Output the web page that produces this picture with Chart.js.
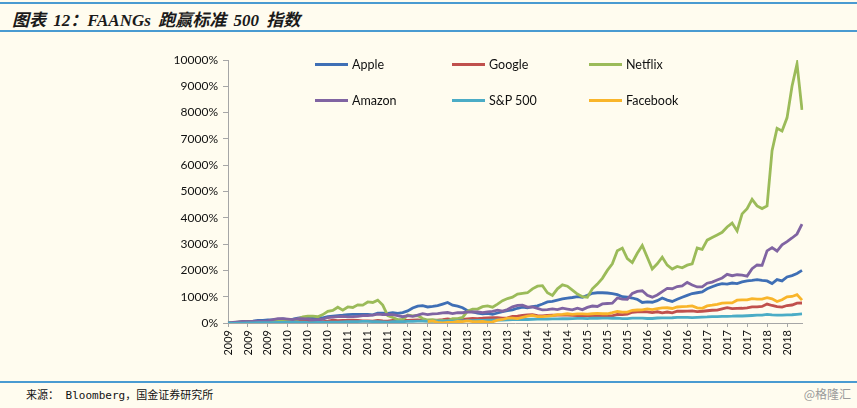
<!DOCTYPE html>
<html>
<head>
<meta charset="utf-8">
<script src="https://cdn.jsdelivr.net/npm/chart.js@4.4.1/dist/chart.umd.min.js"></script>
<style>
    body { margin: 0; background: #FFFCEF; }
    #page { position: relative; width: 857px; height: 408px; overflow: hidden; background: #FFFCEF; }
    .rule { position: absolute; left: 0; width: 857px; height: 2px; background: #4A9BD1; }
    #title { position: absolute; left: 12px; top: 6px; font: italic bold 17px "Liberation Serif", "Noto Sans CJK SC", serif; color: #1a1a1a; white-space: nowrap; word-spacing: 3px; }
    #source { position: absolute; left: 26px; top: 386px; font: 11px "DejaVu Sans Mono", "Noto Sans CJK SC", monospace; color: #111; white-space: nowrap; }
    #mark { position: absolute; right: 6px; top: 385px; font: 12px "Noto Sans CJK SC", sans-serif; color: #9a9a9a; }
    #chart-box { position: absolute; left: 0; top: 36px; width: 857px; height: 340px; }
    .legend-item { position: absolute; font: 12.5px Lato, sans-serif; color: #111; white-space: nowrap; }
    .legend-item span.swatch { display: inline-block; width: 33px; height: 3px; vertical-align: middle; margin-right: 4px; position: relative; top: -1px; }
</style>
</head>
<body>
<div id="page">
    <div class="rule" style="top:2px"></div>
    <div id="title">图表 12：FAANGs 跑赢标准 500 指数</div>
    <div class="rule" style="top:30px"></div>
    <div id="chart-box"><canvas id="faangs"></canvas></div>
    <div id="legend"></div>
    <div class="rule" style="top:381px"></div>
    <div id="source">来源： Bloomberg，国金证券研究所</div>
    <div id="mark">@格隆汇</div>
</div>
<script>
// monthly points, Jan 2009 .. Aug 2018, cumulative return in %
const years = ["2009", "2010", "2011", "2012", "2013", "2014", "2015", "2016", "2017", "2018"];
const monthCount = 116;

const seriesNames = ["Apple", "Google", "Netflix", "Amazon", "S&P 500", "Facebook"];
const seriesColors = ["#3F6FB5", "#C0504D", "#9BBB59", "#8064A2", "#4BACC6", "#F9B52A"];

const apple = [
    0, 5, 25, 50, 60, 70, 95, 100, 120, 125, 140, 155,
    130, 145, 185, 215, 210, 205, 210, 195, 245, 265, 280, 295,
    315, 330, 325, 330, 325, 310, 375, 370, 365, 395, 365, 395,
    460, 570, 640, 660, 610, 630, 660, 720, 780, 680, 640, 580,
    470, 420, 380, 350, 370, 330, 380, 430, 470, 500, 560, 600,
    580, 620, 650, 720, 800, 820, 870, 920, 950, 970, 1000, 980,
    1050, 1130, 1150, 1150, 1140, 1120, 1080, 1000, 980, 950, 900, 780,
    800, 790, 850, 950, 870, 820, 900, 980, 1050, 1120, 1150, 1180,
    1300, 1380, 1450, 1500, 1480, 1520, 1500, 1560, 1600, 1620, 1650, 1620,
    1600, 1500, 1650, 1600, 1750, 1800, 1880, 2000
];
const google = [
    0, 5, 15, 30, 38, 40, 48, 52, 65, 80, 95, 108,
    75, 75, 90, 75, 62, 48, 62, 50, 75, 105, 85, 98,
    100, 105, 95, 82, 78, 70, 102, 80, 72, 98, 100, 115,
    95, 105, 115, 102, 95, 95, 112, 130, 155, 128, 135, 140,
    155, 172, 170, 180, 196, 200, 202, 188, 198, 252, 262, 285,
    305, 318, 282, 268, 290, 295, 298, 298, 296, 290, 278, 262,
    268, 285, 276, 276, 268, 270, 330, 322, 340, 408, 428, 438,
    425, 392, 426, 388, 418, 385, 446, 446, 455, 458, 435, 447,
    466, 484, 486, 540, 584, 544, 555, 560, 575, 616, 616, 630,
    720, 666, 620, 603, 664, 684, 755, 760
];
const netflix = [
    0, 10, 30, 50, 30, 40, 45, 45, 55, 75, 95, 85,
    105, 120, 150, 230, 260, 265, 240, 320, 440, 480, 600, 490,
    610, 590, 690, 680, 800, 780, 870, 680, 280, 210, 130, 130,
    300, 270, 285, 170, 115, 130, 90, 100, 80, 170, 170, 210,
    450, 530, 530, 620, 650, 600, 720, 850, 930, 980, 1100, 1130,
    1150, 1300, 1400, 1420, 1150, 1050, 1300, 1450, 1400, 1250, 1100, 1000,
    980, 1300, 1480, 1700, 2000, 2250, 2750, 2850, 2450, 2300, 2650, 2950,
    2500, 2050, 2250, 2500, 2200, 2050, 2150, 2100, 2200, 2250, 2850, 2800,
    3150, 3250, 3350, 3450, 3650, 3800, 3500, 4150, 4350, 4700, 4450, 4350,
    4450, 6550, 7400, 7300, 7800, 9000, 9850, 8100
];
const amazon = [
    0, 25, 43, 57, 53, 65, 69, 59, 83, 131, 165, 163,
    145, 131, 165, 169, 145, 114, 130, 143, 208, 224, 243, 253,
    231, 239, 253, 284, 284, 300, 335, 322, 324, 318, 276, 239,
    280, 251, 296, 353, 316, 347, 357, 386, 398, 355, 394, 390,
    420, 418, 422, 396, 427, 443, 490, 449, 512, 614, 671, 681,
    602, 610, 559, 496, 512, 535, 512, 565, 531, 498, 563, 508,
    594, 645, 629, 725, 741, 751, 951, 904, 902, 1127, 1202, 1224,
    1051, 982, 1065, 1192, 1316, 1302, 1386, 1408, 1541, 1447, 1371, 1371,
    1514, 1557, 1637, 1712, 1849, 1798, 1835, 1822, 1784, 2067, 2206, 2192,
    2743, 2865, 2737, 2970, 3094, 3233, 3384, 3760
];
const sp500 = [
    0, -15, -10, -3, 2, 2, 9, 13, 17, 15, 22, 25,
    20, 24, 32, 35, 24, 18, 26, 21, 32, 37, 37, 46,
    50, 55, 55, 60, 58, 55, 52, 44, 34, 49, 49, 50,
    58, 65, 71, 70, 60, 67, 70, 73, 78, 75, 76, 78,
    88, 91, 98, 102, 107, 105, 115, 109, 116, 126, 133, 139,
    133, 143, 146, 148, 153, 158, 155, 165, 162, 168, 176, 175,
    168, 184, 180, 183, 187, 181, 187, 170, 163, 186, 187, 183,
    172, 172, 190, 192, 198, 199, 211, 211, 211, 206, 217, 224,
    231, 244, 244, 249, 255, 258, 266, 267, 275, 285, 296, 301,
    324, 308, 298, 301, 310, 314, 330, 344
];
// Facebook listed May 2012 (month index 40)
const facebookFirstMonth = 40;
const facebookValues = [
    54, 77, 26, 3, 26, 20, 60, 54,
    77, 54, 49, 60, 37, 43, 111, 134, 186, 186, 169, 214,
    260, 289, 243, 243, 260, 283, 317, 329, 351, 329, 346, 346,
    334, 351, 369, 351, 351, 391, 437, 414, 414, 483, 494, 500,
    540, 511, 551, 574, 580, 551, 609, 620, 631, 649, 574, 557,
    649, 677, 711, 757, 763, 763, 866, 883, 877, 929, 911, 906,
    963, 917, 814, 883, 997, 1009, 1080, 870
];
const facebook = new Array(facebookFirstMonth).fill(null).concat(facebookValues);

const labels = [];
years.forEach(y => {
    for (let m = 0; m < 12 && labels.length < monthCount; m++) labels.push(y);
});

const seriesData = [apple, google, netflix, amazon, sp500, facebook];

// legend laid out like the original, two rows of three
const legendSpots = [
    [315, 57], [452, 57], [589, 57],
    [315, 93], [452, 93], [589, 93]
];
const legend = document.getElementById("legend");
seriesNames.forEach((name, i) => {
    const item = document.createElement("div");
    item.className = "legend-item";
    item.style.left = legendSpots[i][0] + "px";
    item.style.top = legendSpots[i][1] + "px";
    item.innerHTML = '<span class="swatch" style="background:' + seriesColors[i] + '"></span>' + name.replace("&", "&amp;");
    legend.appendChild(item);
});

const ctx = document.getElementById("faangs");

new Chart(ctx, {
    type: 'line',
    data: {
        labels: labels,
        datasets: seriesNames.map((name, i) => ({
            label: name,
            data: seriesData[i],
            borderColor: seriesColors[i],
            backgroundColor: seriesColors[i],
            borderWidth: 2.8,
            pointRadius: 0,
            tension: 0,
            order: seriesNames.length - i
        }))
    },
    options: {
        responsive: true,
        maintainAspectRatio: false,
        animation: false,
        layout: { padding: { left: 0, right: 55, top: 24, bottom: 0 } },
        plugins: {
            legend: { display: false },
            tooltip: { enabled: false }
        },
        scales: {
            x: {
                afterFit: scale => { scale.height = 53; },
                border: { color: '#A6A6A6', width: 1 },
                grid: { drawOnChartArea: false, drawTicks: true, tickLength: 4, color: '#A6A6A6' },
                ticks: {
                    autoSkip: false,
                    minRotation: 90,
                    maxRotation: 90,
                    padding: 3,
                    color: '#111',
                    font: { family: 'Lato', size: 11 },
                    callback: function(value, index) {
                        return index % 4 === 0 ? this.getLabelForValue(value) : null;
                    }
                }
            },
            y: {
                min: 0,
                max: 10000,
                afterFit: scale => { scale.width = 228; },
                border: { color: '#A6A6A6', width: 1 },
                grid: { drawOnChartArea: false, drawTicks: true, tickLength: 5, color: '#A6A6A6' },
                ticks: {
                    stepSize: 1000,
                    padding: 5,
                    color: '#111',
                    font: { family: 'Lato', size: 12 },
                    callback: v => v + '%'
                }
            }
        }
    }
});
</script>
</body>
</html>
